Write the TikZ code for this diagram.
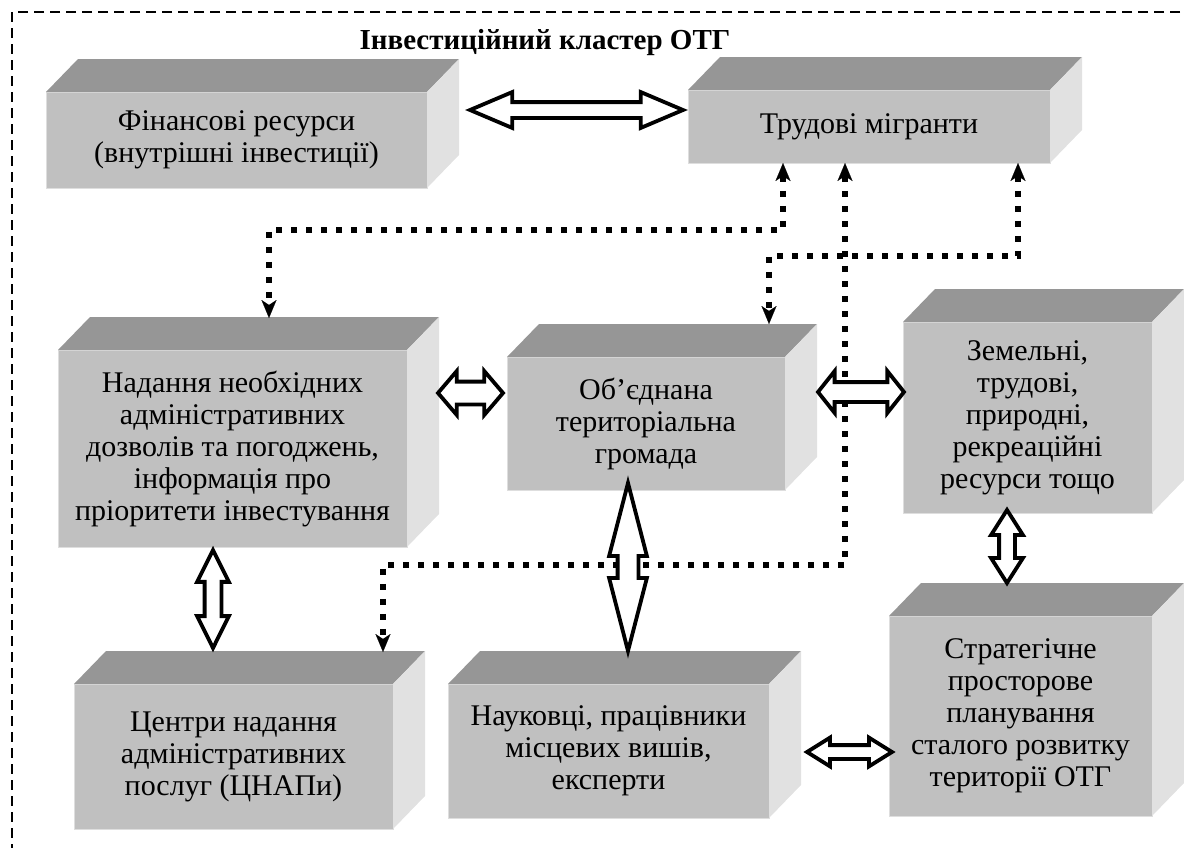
\documentclass[tikz,border=0pt]{standalone}
\usepackage{fontspec}
\setmainfont{Liberation Serif}
\usetikzlibrary{arrows.meta,shapes.arrows}
\definecolor{frontgray}{HTML}{C0C0C0}
\definecolor{topgray}{HTML}{969696}
\definecolor{sidegray}{HTML}{E1E1E1}
\newcommand\boxfont{\fontsize{30}{32}\selectfont}
\begin{document}
\begin{tikzpicture}[x=1pt,y=-1pt,
  front/.style={fill=frontgray, draw=black!13, line width=0.8pt, inner sep=0pt, outer sep=0pt, align=center, font=\boxfont},
  topface/.style={fill=topgray},
  sideface/.style={fill=sidegray},
  dots/.style={line width=6pt, dash pattern=on 6pt off 9pt,
    {Stealth[length=18pt,width=15pt,inset=5pt,line width=0.1pt]}-{Stealth[length=18pt,width=15pt,inset=5pt,line width=0.1pt]}},
  hollow/.style={double arrow, draw=black, fill=white, line width=3.8pt, inner xsep=0pt, minimum width=0pt},
  frame/.style={line width=1.5pt, dash pattern=on 10pt off 6pt}]
\useasboundingbox (0,0) rectangle (1184,847);
\draw[frame] (12,12) rectangle (1210,870);
\node[font=\fontsize{29}{32}\selectfont\bfseries] (title) at (545,43) {Інвестиційний кластер ОТГ};

% front faces
\node[front, minimum width=381pt, minimum height=96pt] (fin) at (236.5,140) {Фінансові ресурси\\(внутрішні інвестиції)};
\node[front, minimum width=362pt, minimum height=73pt] (mig) at (869,126.5) {Трудові мігранти};
\node[front, minimum width=349pt, minimum height=197pt] (adm) at (232.5,448.5) {Надання необхідних\\адміністративних\\дозволів та погоджень,\\інформація про\\пріоритети інвестування};
\node[front, minimum width=278pt, minimum height=133pt] (otg) at (646,423.5) {Об’єднана\\територіальна\\громада};
\node[front, minimum width=249pt, minimum height=191pt] (res) at (1027.5,417.5) {Земельні,\\трудові,\\природні,\\рекреаційні\\ресурси тощо};
\node[front, minimum width=319pt, minimum height=145pt] (cnap) at (233.5,756.5) {Центри надання\\адміністративних\\послуг (ЦНАПи)};
\node[front, minimum width=321pt, minimum height=134pt] (nauk) at (608.5,751) {Науковці, працівники\\місцевих вишів,\\експерти};
\node[front, minimum width=263pt, minimum height=200pt] (plan) at (1020.5,716) {Стратегічне\\просторове\\планування\\сталого розвитку\\території ОТГ};

% top and side faces
\foreach \b in {fin,mig,adm,otg,res,cnap,nauk,plan} {
  \fill[topface] (\b.north west) -- ++(32,-33) -- ([shift={(32,-33)}]\b.north east) -- (\b.north east) -- cycle;
  \fill[sideface] (\b.north east) -- ++(32,-33) -- ([shift={(32,-33)}]\b.south east) -- (\b.south east) -- cycle;
}

% dotted links
\draw[dots] ([xshift=95pt]mig.south west) -- ++(0,67) -| ([xshift=211pt,yshift=32pt]adm.north west);
\draw[dots] ([xshift=330pt]mig.south west) -- ++(0,93) -| ([xshift=262pt,yshift=33pt]otg.north west);
\draw[dots] ([xshift=157pt]mig.south west) -- ++(0,402) -| ([xshift=309pt,yshift=32pt]cnap.north west);

% hollow arrows
\node[hollow, minimum height=213pt, inner ysep=6pt, double arrow head extend=10pt, double arrow tip angle=46] (finmig) at (576.5,110) {};
\node[hollow, minimum height=65pt, inner ysep=9.5pt, double arrow head extend=10.5pt, double arrow tip angle=99] (admotg) at (470.5,393) {};
\node[hollow, minimum height=86pt, inner ysep=8pt, double arrow head extend=11pt, double arrow tip angle=103] (otgres) at (861,392) {};
\node[hollow, rotate=90, minimum height=98pt, inner ysep=6.5pt, double arrow head extend=7.5pt, double arrow tip angle=53] (admcnap) at (213,599) {};
\node[hollow, rotate=90, minimum height=168pt, inner ysep=8.5pt, double arrow head extend=8.5pt, double arrow tip angle=29] (otgnauk) at (628,567) {};
\node[hollow, rotate=90, minimum height=73pt, inner ysep=6pt, double arrow head extend=8pt, double arrow tip angle=65] (resplan) at (1007,546.5) {};
\node[hollow, minimum height=85pt, inner ysep=5pt, double arrow head extend=7.5pt, double arrow tip angle=64] (naukplan) at (849.5,752) {};
\end{tikzpicture}
\end{document}
